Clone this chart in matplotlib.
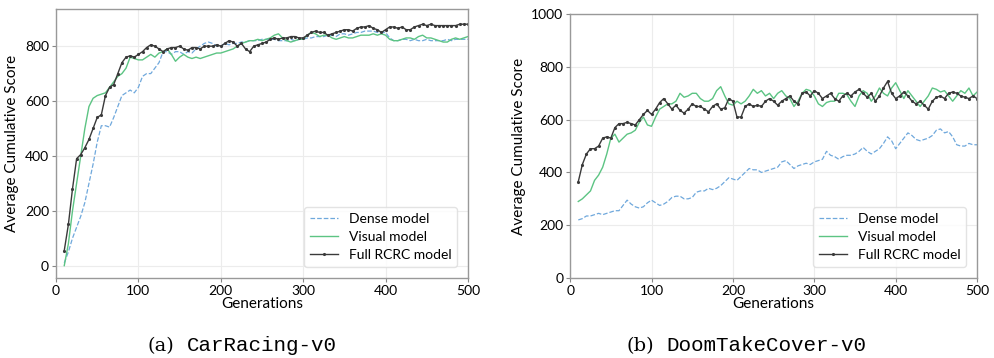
import numpy as np
import matplotlib.pyplot as plt

# generations sampled every 5 from 10 to 500
generations = list(range(10, 501, 5))

# CarRacing-v0 scores
car_dense = [10, 50, 100, 140, 180, 230, 300, 370, 450, 510, 510, 505, 540, 580, 620, 630, 640, 630, 650, 690,
             700, 700, 720, 740, 780, 780, 770, 780, 780, 770, 780, 775, 790, 800, 810, 815, 810, 800, 800, 810,
             805, 810, 810, 815, 815, 820, 820, 820, 825, 825, 825, 825, 820, 820, 820, 825, 820, 825, 825, 830,
             830, 835, 835, 835, 840, 840, 835, 845, 845, 840, 845, 850, 850, 855, 855, 855, 850, 850, 850, 830,
             820, 820, 825, 825, 820, 825, 820, 820, 825, 820, 820, 820, 820, 825, 820, 825, 825, 825, 825]
car_visual = [0, 80, 200, 300, 400, 500, 580, 610, 620, 625, 630, 650, 670, 690, 700, 720, 760, 755, 750, 750,
              760, 770, 760, 775, 780, 790, 770, 745, 760, 770, 760, 755, 760, 755, 760, 765, 770, 775, 775, 780,
              785, 790, 800, 810, 815, 820, 820, 825, 820, 825, 830, 840, 845, 830, 820, 815, 820, 825, 825, 840,
              850, 845, 835, 840, 840, 830, 825, 830, 835, 830, 830, 835, 840, 840, 840, 845, 840, 845, 840, 825,
              820, 820, 825, 830, 830, 825, 835, 840, 830, 830, 825, 820, 815, 815, 825, 830, 825, 830, 835]
car_full = [55, 150, 280, 390, 405, 430, 460, 500, 540, 550, 620, 650, 660, 700, 740, 760, 765, 760, 770, 780,
            795, 805, 800, 790, 780, 790, 795, 795, 800, 790, 785, 795, 795, 790, 800, 800, 800, 805, 800, 810,
            820, 815, 800, 810, 790, 780, 800, 805, 810, 815, 825, 830, 825, 830, 830, 835, 835, 830, 830, 840,
            850, 855, 850, 850, 840, 845, 850, 855, 860, 860, 855, 865, 870, 870, 875, 865, 860, 850, 860, 870,
            870, 865, 870, 860, 860, 870, 875, 880, 875, 880, 875, 875, 875, 875, 875, 875, 880, 880, 880]

# DoomTakeCover-v0 scores
doom_dense = [220, 225, 235, 235, 240, 245, 240, 245, 250, 255, 255, 275, 295, 280, 270, 265, 270, 285, 295, 285,
              275, 280, 290, 305, 310, 310, 300, 300, 305, 325, 330, 330, 340, 335, 340, 350, 365, 380, 375, 370,
              385, 400, 415, 410, 410, 400, 405, 410, 415, 420, 440, 445, 430, 415, 425, 430, 435, 430, 440, 445,
              450, 480, 465, 460, 450, 460, 465, 465, 470, 480, 495, 480, 470, 480, 490, 510, 535, 520, 490, 510,
              530, 550, 540, 525, 520, 525, 530, 540, 560, 565, 550, 555, 535, 505, 500, 500, 510, 505, 505]
doom_visual = [290, 300, 315, 330, 370, 390, 420, 470, 530, 545, 515, 530, 545, 550, 560, 590, 610, 580, 575, 610,
               640, 650, 660, 660, 670, 700, 685, 690, 700, 700, 680, 670, 670, 680, 710, 725, 690, 660, 655, 670,
               660, 670, 690, 715, 700, 710, 690, 700, 680, 700, 710, 690, 680, 650, 670, 700, 715, 710, 690, 660,
               650, 665, 670, 670, 700, 700, 695, 670, 650, 690, 710, 700, 670, 690, 720, 700, 690, 720, 740, 710,
               680, 710, 690, 670, 650, 670, 690, 720, 715, 705, 710, 690, 670, 690, 710, 700, 720, 690, 705]
doom_full = [365, 430, 470, 490, 490, 500, 530, 535, 530, 570, 585, 585, 590, 585, 580, 600, 620, 635, 620, 640,
             665, 680, 660, 640, 655, 635, 625, 640, 660, 650, 650, 640, 630, 650, 660, 640, 645, 680, 670, 610,
             610, 650, 660, 650, 655, 650, 670, 680, 670, 655, 670, 680, 690, 670, 660, 700, 705, 690, 710, 700,
             680, 690, 700, 680, 670, 690, 700, 690, 705, 715, 700, 685, 700, 670, 690, 720, 745, 700, 680, 690,
             705, 690, 670, 660, 670, 655, 640, 670, 685, 690, 680, 700, 705, 700, 690, 685, 680, 690, 680]

labels = ["Dense model", "Visual model", "Full RCRC model"]
captions = [("(a)", "CarRacing-v0"), ("(b)", "DoomTakeCover-v0")]

plt.rcParams['font.family'] = ['Lato', 'DejaVu Sans']

fig = plt.figure(figsize=(9.95, 3.58), dpi=100)
ax1 = fig.add_axes([0.0563, 0.2235, 0.414, 0.751])
ax2 = fig.add_axes([0.573, 0.2235, 0.409, 0.737])


def draw_panel(ax, dense, visual, full):
    ax.plot(generations, dense, color='#6fa8dc', lw=0.9, ls='--', label=labels[0])
    ax.plot(generations, visual, color='#5cc483', lw=1.0, label=labels[1])
    ax.plot(generations, full, color='#3a3a3a', lw=1.0, marker='.', ms=2.5, label=labels[2])
    ax.set_xlim(0, 500)
    ax.set_xticks([0, 100, 200, 300, 400, 500])
    ax.set_xlabel("Generations", fontsize=11, labelpad=0)
    ax.set_ylabel("Average Cumulative Score", fontsize=11)
    ax.grid(True, color='#ececec', lw=0.8)
    ax.tick_params(labelsize=10, length=3, color='#888888', pad=2)
    for s in ax.spines.values():
        s.set_color('#999999')
        s.set_linewidth(1.0)
    ax.legend(loc='lower right', fontsize=10, frameon=True, edgecolor='#dddddd',
              handlelength=2.0, labelspacing=0.45, borderaxespad=0.8)


draw_panel(ax1, car_dense, car_visual, car_full)
ax1.set_ylim(-45, 935)
ax1.set_yticks([0, 200, 400, 600, 800])

draw_panel(ax2, doom_dense, doom_visual, doom_full)
ax2.set_ylim(0, 1000)

# sub-figure captions: serif tag + monospace environment name
for tx, nx, (tag, name) in zip([0.148, 0.630], [0.188, 0.670], captions):
    fig.text(tx, 0.02, tag, family='DejaVu Serif', fontsize=14, ha='left', va='baseline')
    fig.text(nx, 0.02, name, family='Liberation Mono', fontsize=15, ha='left', va='baseline')

fig.savefig("out.png", dpi=100)
